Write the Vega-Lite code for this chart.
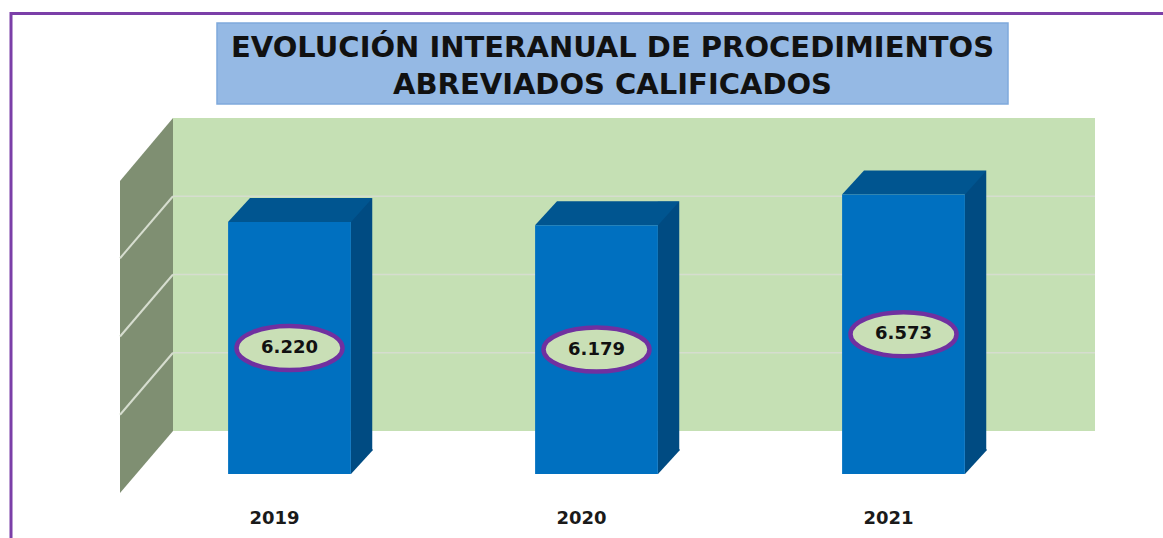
{
"$schema":"https://vega.github.io/schema/vega-lite/v6.json",
"width":1163,"height":538,"autosize":"none","padding":0,"background":"white",
"title":{"text":["EVOLUCIÓN INTERANUAL DE PROCEDIMIENTOS","ABREVIADOS CALIFICADOS"],"frame":"group","anchor":"middle","orient":"top","dx":31,"offset":-100,"font":"DejaVu Sans","fontWeight":700,"fontSize":29,"lineHeight":37,"color":"#111111"},
"datasets":{
"bars":[{"year":"2019","value":6220,"label":"6.220"},{"year":"2020","value":6179,"label":"6.179"},{"year":"2021","value":6573,"label":"6.573"}],
"wall":[{"from":2018.5,"to":2021.5,"low":3000,"high":7000}],
"grid":[{"from":2018.5,"to":2021.5,"level":4000},{"from":2018.5,"to":2021.5,"level":5000},{"from":2018.5,"to":2021.5,"level":6000}]
},
"config":{"view":{"stroke":null}},
"resolve":{"scale":{"x":"independent","y":"independent"}},
"layer":[
{"data":{"name":"wall"},"mark":{"type":"point","filled":false,"opacity":1,"size":4,"fill":null,"stroke":"#7B3FA8","strokeWidth":3,"shape":"M-162 430 L-162 -104.5 L 990 -104.5"},
 "encoding":{"x":{"field":"from","type":"quantitative","axis":null,"scale":{"domain":[2018.5,2021.5],"range":[173,1095],"nice":false,"zero":false}},"y":{"field":"high","type":"quantitative","axis":null,"scale":{"domain":[3000,7000],"range":[431,118],"nice":false,"zero":false}}}},
{"data":{"name":"wall"},"mark":{"type":"point","filled":true,"opacity":1,"size":4,"fill":"#95B9E4","stroke":"#7FA9DC","strokeWidth":1.5,"shape":"M44 -95 L835 -95 L835 -14 L44 -14 Z"},
 "encoding":{"x":{"field":"from","type":"quantitative","axis":null,"scale":{"domain":[2018.5,2021.5],"range":[173,1095],"nice":false,"zero":false}},"y":{"field":"high","type":"quantitative","axis":null,"scale":{"domain":[3000,7000],"range":[431,118],"nice":false,"zero":false}}}},
{"data":{"name":"wall"},"mark":{"type":"rect","color":"#C5E0B4"},
 "encoding":{"x":{"field":"from","type":"quantitative","axis":null,"scale":{"domain":[2018.5,2021.5],"range":[173,1095],"nice":false,"zero":false}},"x2":{"field":"to"},"y":{"field":"high","type":"quantitative","axis":null,"scale":{"domain":[3000,7000],"range":[431,118],"nice":false,"zero":false}},"y2":{"field":"low"}}},
{"data":{"name":"wall"},"mark":{"type":"point","filled":true,"opacity":1,"size":4,"fill":"#7F8F72","strokeWidth":0,"shape":"M0 0 L0 -313 L-53 -250 L-53 62 Z"},
 "encoding":{"x":{"field":"from","type":"quantitative","axis":null,"scale":{"domain":[2018.5,2021.5],"range":[173,1095],"nice":false,"zero":false}},"y":{"field":"low","type":"quantitative","axis":null,"scale":{"domain":[3000,7000],"range":[431,118],"nice":false,"zero":false}}}},
{"data":{"name":"grid"},"mark":{"type":"rule","color":"#D6DDCF","strokeWidth":1.5},
 "encoding":{"x":{"field":"from","type":"quantitative","axis":null,"scale":{"domain":[2018.5,2021.5],"range":[173,1095],"nice":false,"zero":false}},"x2":{"field":"to"},"y":{"field":"level","type":"quantitative","axis":null,"scale":{"domain":[3000,7000],"range":[431,118],"nice":false,"zero":false}}}},
{"data":{"name":"grid"},"mark":{"type":"point","filled":false,"opacity":1,"size":4,"fill":null,"stroke":"#D6DDCF","strokeWidth":2,"shape":"M0 0 L-53 62"},
 "encoding":{"x":{"field":"from","type":"quantitative","axis":null,"scale":{"domain":[2018.5,2021.5],"range":[173,1095],"nice":false,"zero":false}},"y":{"field":"level","type":"quantitative","axis":null,"scale":{"domain":[3000,7000],"range":[431,118],"nice":false,"zero":false}}}},
{"data":{"name":"bars"},"mark":{"type":"bar","color":"#004B82","width":21.5,"xOffset":72},
 "encoding":{"x":{"field":"year","type":"nominal","axis":null,"scale":{"domain":["2019","2020","2021"],"range":[136,1057],"paddingInner":0.6,"paddingOuter":0.3}},"y":{"field":"value","type":"quantitative","axis":null,"scale":{"domain":[3000,7000],"range":[450.5,137.5],"nice":false,"zero":false}},"y2":{"datum":3000}}},
{"data":{"name":"bars"},"mark":{"type":"point","filled":true,"opacity":1,"size":4,"fill":"#004B82","strokeWidth":0,"shape":"M61.5 0 L61.5 -25 L83 -25 L83 -23.5 Z"},
 "encoding":{"x":{"field":"year","type":"nominal","axis":null,"scale":{"domain":["2019","2020","2021"],"range":[136,1057],"paddingInner":0.6,"paddingOuter":0.3}},"y":{"datum":3000,"type":"quantitative","axis":null,"scale":{"domain":[3000,7000],"range":[474,161],"nice":false,"zero":false}}}},
{"data":{"name":"bars"},"mark":{"type":"point","filled":true,"opacity":1,"size":4,"fill":"#005590","strokeWidth":0,"shape":"M-61.5 0 L-39.5 -24 L83 -24 L61.5 0 Z"},
 "encoding":{"x":{"field":"year","type":"nominal","axis":null,"scale":{"domain":["2019","2020","2021"],"range":[136,1057],"paddingInner":0.6,"paddingOuter":0.3}},"y":{"field":"value","type":"quantitative","axis":null,"scale":{"domain":[3000,7000],"range":[474,161],"nice":false,"zero":false}}}},
{"data":{"name":"bars"},"mark":{"type":"bar","color":"#0070C0"},
 "encoding":{"x":{"field":"year","type":"nominal","title":null,"scale":{"domain":["2019","2020","2021"],"range":[136,1057],"paddingInner":0.6,"paddingOuter":0.3},"axis":{"orient":"bottom","offset":-29,"domain":false,"ticks":false,"labelAngle":0,"labelOffset":-15,"labelPadding":0,"labelFont":"DejaVu Sans","labelFontWeight":"bold","labelFontSize":18,"labelColor":"#1a1a1a","labelBaseline":"top"}},"y":{"field":"value","type":"quantitative","axis":null,"scale":{"domain":[3000,7000],"range":[474,161],"nice":false,"zero":false}},"y2":{"datum":3000}}},
{"data":{"name":"bars"},"mark":{"type":"point","filled":true,"opacity":1,"size":4,"fill":"#C9DFB6","stroke":"#7030A0","strokeWidth":4.5,"shape":"M-53 0 A53 22 0 1 1 53 0 A53 22 0 1 1 -53 0 Z"},
 "encoding":{"x":{"field":"year","type":"nominal","axis":null,"scale":{"domain":["2019","2020","2021"],"range":[136,1057],"paddingInner":0.6,"paddingOuter":0.3}},"y":{"field":"value","type":"quantitative","axis":null,"scale":{"domain":[3000,7000],"range":[474,317.5],"nice":false,"zero":false}}}},
{"data":{"name":"bars"},"mark":{"type":"text","font":"DejaVu Sans","fontWeight":"bold","fontSize":18,"color":"#111111","baseline":"middle","align":"center"},
 "encoding":{"x":{"field":"year","type":"nominal","axis":null,"scale":{"domain":["2019","2020","2021"],"range":[136,1057],"paddingInner":0.6,"paddingOuter":0.3}},"y":{"field":"value","type":"quantitative","axis":null,"scale":{"domain":[3000,7000],"range":[474,317.5],"nice":false,"zero":false}},"text":{"field":"label"}}}
]
}
